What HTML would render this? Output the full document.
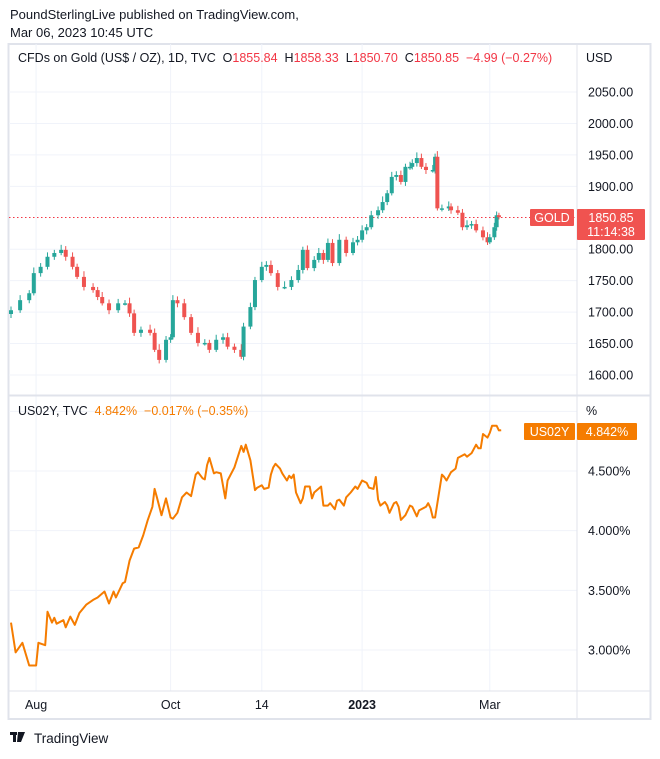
<!DOCTYPE html>
<html><head><meta charset="utf-8"><style>
body{margin:0;background:#fff;font-family:"Liberation Sans",sans-serif;}
svg text{font-family:"Liberation Sans",sans-serif;white-space:pre;}
</style></head><body>
<svg id="root" width="660" height="754" viewBox="0 0 660 754" xmlns="http://www.w3.org/2000/svg">
<text x="10" y="19" font-size="13" fill="#131722">PoundSterlingLive published on TradingView.com,</text>
<text x="10" y="37" font-size="13" fill="#131722">Mar 06, 2023 10:45 UTC</text>
<rect x="8.5" y="44" width="642" height="675" fill="none" stroke="#e0e3eb" stroke-width="2"/>
<g id="grid"></g>
<line x1="577" y1="44" x2="577" y2="719" stroke="#e0e3eb"/>
<line x1="9" y1="395.5" x2="650" y2="395.5" stroke="#e0e3eb" stroke-width="2"/>
<line x1="9" y1="691" x2="650" y2="691" stroke="#e0e3eb"/>
<line x1="9" y1="217.5" x2="577" y2="217.5" stroke="#f23645" stroke-dasharray="1.5 2.5"/>
<g id="candles"></g>
<path id="yline" fill="none" stroke="#f57c00" stroke-width="2" stroke-linejoin="round"/>
<g id="axes"></g>
<text x="18" y="62" font-size="12.5" fill="#131722">CFDs on Gold (US$ / OZ), 1D, TVC  O<tspan fill="#f23645">1855.84</tspan>  H<tspan fill="#f23645">1858.33</tspan>  L<tspan fill="#f23645">1850.70</tspan>  C<tspan fill="#f23645">1850.85</tspan>  <tspan fill="#f23645">−4.99 (−0.27%)</tspan></text>
<text x="18" y="415" font-size="12.5" fill="#131722">US02Y, TVC  <tspan fill="#f57c00">4.842%</tspan>  <tspan fill="#f57c00">−0.017% (−0.35%)</tspan></text>
<text x="586" y="62" font-size="12.5" fill="#131722">USD</text>
<text x="586" y="415" font-size="12.5" fill="#131722">%</text>
<rect x="530" y="209" width="44" height="17" rx="1" fill="#f05350"/>
<text x="552" y="222" font-size="12.5" fill="#fff" text-anchor="middle">GOLD</text>
<rect x="577" y="209" width="68" height="31" rx="1" fill="#f05350"/>
<text x="611" y="222" font-size="12.5" fill="#fff" text-anchor="middle">1850.85</text>
<text x="611" y="236" font-size="12.5" fill="#fff" text-anchor="middle">11:14:38</text>
<rect x="524" y="423" width="51" height="17" rx="1" fill="#f57c00"/>
<text x="549.5" y="436" font-size="12.5" fill="#fff" text-anchor="middle">US02Y</text>
<rect x="577" y="423" width="60" height="17" rx="1" fill="#f57c00"/>
<text x="607" y="436" font-size="12.5" fill="#fff" text-anchor="middle">4.842%</text>
<g>
<rect x="10" y="732" width="7" height="3" fill="#131722"/><rect x="13" y="732" width="3" height="10" fill="#131722"/><polygon points="18,732 25,732 21,742 17,742" fill="#131722"/>
<text x="34" y="743" font-size="13.5" fill="#131722">TradingView</text></g>
</svg>
<script>
const goldPriceTicks=[2050,2000,1950,1900,1800,1750,1700,1650,1600];
const yieldTicks=[4.5,4.0,3.5,3.0];
const yieldTickLabels=["4.500%","4.000%","3.500%","3.000%"];
const timeLabels=["Aug","Oct","14","2023","Mar"];
const timeLabelDays=[11,70,110,154,210];
const goldDays=[0,4,8,10,13,16,19,22,24,27,29,32,36,38,40,43,47,50,52,54,57,61,63,65,68,70,71,73,76,79,82,85,87,90,93,95,98,101,102,105,107,110,112,114,117,120,123,126,128,130,133,135,137,139,141,144,147,150,152,154,156,158,161,163,165,167,169,171,173,175,176,178,180,182,185,186,187,189,192,193,196,198,200,202,204,207,209,210,212,213,214];
const goldCloses=[1703,1719,1730,1762,1772,1788,1794,1799,1788,1772,1756,1740,1735,1724,1714,1703,1714,1714,1698,1667,1672,1667,1640,1624,1656,1660,1719,1714,1692,1667,1651,1651,1640,1656,1660,1645,1640,1629,1677,1708,1751,1772,1775,1762,1740,1740,1751,1767,1799,1770,1783,1794,1783,1810,1778,1815,1794,1811,1815,1830,1835,1854,1862,1875,1889,1915,1918,1907,1931,1931,1937,1945,1931,1926,1926,1947,1865,1865,1868,1862,1858,1835,1838,1840,1830,1819,1811,1819,1835,1854,1850.85];
const goldWicks=[6,8,5,9,6,7,5,8,6,7,5,9,6,5,8,6,7,5,9,6,5,8,7,9,6,5,8,6,7,5,9,6,5,8,6,7,5,9,6,7,5,8,6,7,5,9,6,8,5,7,6,8,5,7,6,9,5,7,6,8,5,7,6,9,5,8,6,7,5,8,6,9,7,6,8,5,9,6,8,5,7,6,8,5,7,6,8,5,7,6,4];
const yieldDays=[0,2,5,8,11,12,15,16,18,19,20,23,24,26,28,30,33,36,38,41,43,45,46,49,50,52,54,56,58,60,62,63,64,66,68,70,71,73,75,77,79,81,82,84,85,86,87,89,90,92,94,95,98,100,101,102,103,105,107,108,110,111,113,114,115,116,118,119,121,122,123,124,125,127,128,129,131,132,133,136,137,139,140,142,143,144,146,147,149,151,152,154,156,157,159,160,161,162,164,165,166,168,169,170,171,173,175,176,178,179,182,183,184,185,186,189,190,191,193,195,196,198,199,200,202,204,205,206,207,209,210,211,213,214,215];
const yieldValues=[3.23,2.98,3.06,2.87,2.87,3.06,3.04,3.32,3.23,3.27,3.22,3.25,3.19,3.28,3.21,3.31,3.38,3.42,3.44,3.49,3.39,3.49,3.44,3.56,3.57,3.75,3.85,3.86,3.96,4.09,4.20,4.35,4.28,4.13,4.27,4.11,4.10,4.15,4.28,4.32,4.29,4.47,4.49,4.44,4.43,4.55,4.61,4.48,4.49,4.48,4.27,4.42,4.53,4.65,4.71,4.66,4.72,4.59,4.34,4.36,4.38,4.35,4.36,4.47,4.53,4.56,4.52,4.48,4.42,4.46,4.44,4.47,4.32,4.23,4.27,4.37,4.37,4.27,4.32,4.37,4.21,4.21,4.23,4.18,4.25,4.26,4.21,4.28,4.32,4.37,4.35,4.42,4.40,4.36,4.35,4.45,4.26,4.21,4.24,4.21,4.15,4.23,4.24,4.20,4.09,4.13,4.21,4.20,4.12,4.17,4.20,4.23,4.19,4.11,4.11,4.47,4.45,4.42,4.49,4.52,4.61,4.63,4.64,4.62,4.65,4.72,4.69,4.69,4.81,4.78,4.82,4.88,4.88,4.84,4.842];
const NS="http://www.w3.org/2000/svg";
function yGold(p){return 375-(p-1600)*(283/450);}
function yYield(v){return 471-(v-4.5)*(179/1.5);}
function xDay(d){return 11+d*2.28;}
function mk(tag,attrs,parent){const e=document.createElementNS(NS,tag);for(const k in attrs)e.setAttribute(k,attrs[k]);parent.appendChild(e);return e;}
const grid=document.getElementById('grid'),axes=document.getElementById('axes');
goldPriceTicks.forEach(p=>{const y=yGold(p);
 const l=mk('line',{x1:9,x2:577,y1:y,y2:y,stroke:'#f0f3fa'},grid);
 
 
 const t=mk('text',{x:588,y:y+4.5,'font-size':'12.5',fill:'#131722'},axes);t.textContent=p.toFixed(2);
 
 });
[5.0].concat(yieldTicks).forEach(v=>{const y=yYield(v);
 const l=mk('line',{x1:9,x2:577,y1:y,y2:y,stroke:'#f0f3fa'},grid);
 
 });
yieldTicks.forEach((v,i)=>{const t=mk('text',{x:588,y:yYield(v)+4.5,'font-size':'12.5',fill:'#131722'},axes);t.textContent=yieldTickLabels[i];
 
 });
timeLabels.forEach((s,i)=>{const x=xDay(timeLabelDays[i]);
 const l=mk('line',{x1:x,x2:x,y1:44,y2:691,stroke:'#f0f3fa'},grid);
 
 
 const t=mk('text',{x:x,y:709,'font-size':'12.5',fill:'#131722','text-anchor':'middle','font-weight':s==='2023'?'bold':'normal'},axes);t.textContent=s;
 
 });
const cg=document.getElementById('candles');const n=Math.min(goldCloses.length,goldDays.length);
for(let i=0;i<n;i++){const c=goldCloses[i],o=i?goldCloses[i-1]:c-6;const x=xDay(goldDays[i]);
 const up=c>=o,col=up?'#26a69a':'#ef5350';const hi=Math.max(o,c)+goldWicks[i%goldWicks.length],lo=Math.min(o,c)-goldWicks[(i+3)%goldWicks.length]*0.7;
 const w=mk('line',{x1:x,x2:x,y1:yGold(hi),y2:yGold(lo),stroke:col,'stroke-width':1},cg);
 
 
 const top=yGold(Math.max(o,c)),bot=yGold(Math.min(o,c));
 const b=mk('rect',{x:x-2,y:top,width:4,height:Math.max(1.5,bot-top),fill:col},cg);
 
 }
const m=Math.min(yieldValues.length,yieldDays.length);
document.getElementById('yline').setAttribute('d',yieldValues.slice(0,m).map((v,i)=>(i?'L':'M')+xDay(yieldDays[i]).toFixed(1)+','+yYield(v).toFixed(1)).join(''));
</script>
</body></html>
